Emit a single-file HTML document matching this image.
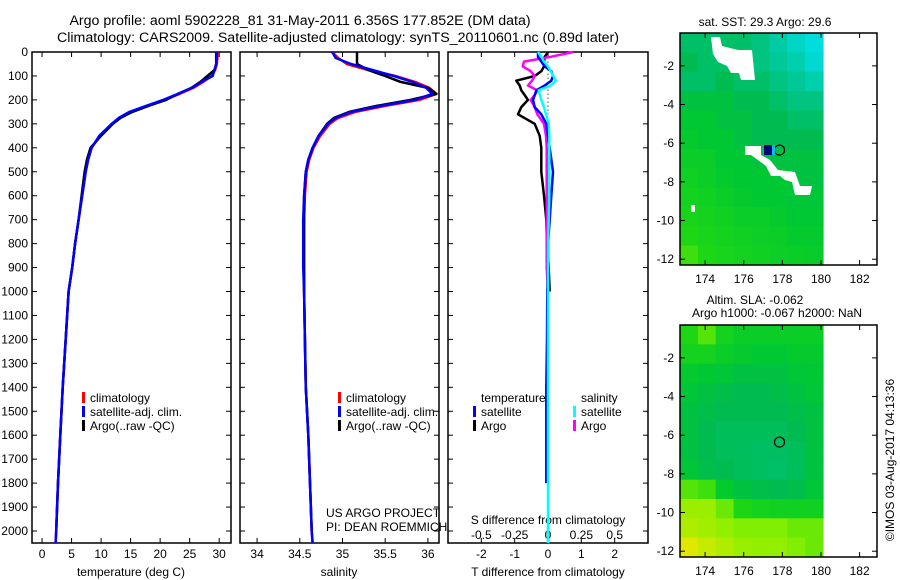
<!DOCTYPE html>
<html><head><meta charset="utf-8"><style>
html,body{margin:0;padding:0;background:#fff;}
svg{display:block;font-family:"Liberation Sans",sans-serif;}
</style></head><body>
<svg id="fig" width="900" height="580" viewBox="0 0 900 580">
<g id="titles" font-size="14.2" text-anchor="middle">
<text x="300" y="25">Argo profile: aoml 5902228_81 31-May-2011 6.356S 177.852E (DM data)</text>
<text x="338" y="42">Climatology: CARS2009. Satellite-adjusted climatology: synTS_20110601.nc (0.89d later)</text>
</g>
<g id="root"></g>
</svg>
<script>
// ---- profile data ----
const depth = [0,25,50,75,100,125,150,175,200,225,250,275,300,350,400,450,500,600,700,800,900,1000,1200,1400,1600,1800,2000,2050];
const tClim = [29.7,29.7,29.6,29.3,28.7,27.3,25.6,23.3,20.7,17.8,15.0,13.2,11.9,9.8,8.4,7.8,7.4,6.8,6.2,5.6,5.1,4.5,4.0,3.5,3.1,2.7,2.4,2.3];
const tSat  = [29.6,29.6,29.5,29.2,28.9,27.0,25.4,23.0,20.5,17.6,14.8,13.0,11.8,9.7,8.4,7.8,7.4,6.8,6.2,5.6,5.1,4.5,4.0,3.5,3.1,2.7,2.4,2.3];
const tArgo = [29.5,29.5,29.5,29.2,28.0,26.8,25.3,23.0,21.0,18.0,15.3,13.3,12.0,10.0,8.2,7.6,7.2,6.7,6.2,5.6,5.1,4.5,4.0,3.5,3.1,2.7,2.4];
const sClim = [34.88,34.95,35.05,35.3,35.62,35.85,36.02,36.1,35.9,35.5,35.15,34.95,34.85,34.74,34.66,34.61,34.58,34.56,34.55,34.55,34.55,34.55,34.56,34.57,34.6,34.62,34.64,34.65];
const sSat  = [34.88,34.92,35.1,35.35,35.6,35.82,35.98,36.05,35.85,35.45,35.1,34.92,34.83,34.72,34.65,34.6,34.57,34.55,34.54,34.54,34.54,34.55,34.56,34.57,34.6,34.62,34.64,34.65];
const sArgo = [35.17,35.17,35.17,35.3,35.5,35.68,36.0,36.1,35.8,35.4,35.08,34.9,34.82,34.72,34.65,34.6,34.57,34.55,34.55,34.55,34.55,34.55,34.56,34.57,34.6,34.62,34.64];
// ---- difference data ----
const dDepth = [0,20,40,60,80,100,120,140,160,180,200,230,260,300,350,400,500,600,700,800,900,1000,1200,1400,1600,1800,2000,2050];
const tArgoD = [0,-0.1,-0.12,-0.12,-0.2,-0.4,-0.95,-0.85,-0.8,-0.7,-0.6,-0.8,-0.9,-0.4,-0.25,-0.2,-0.2,-0.12,-0.05,-0.03,0.02,0.05];
const tSatD  = [-0.3,-0.3,-0.2,-0.1,0.1,0.15,0.1,-0.1,-0.35,-0.4,-0.45,-0.4,-0.2,-0.05,0,0.05,0.15,0.1,0.05,0,0,-0.02,-0.03,-0.05,-0.05,-0.05];
const sSatD  = [-0.075,-0.05,-0.03,0,0.02,0.04,0.06,0.02,-0.07,-0.06,-0.05,-0.03,-0.015,0.005,0.01,0.01,0.01,0.01,0.005,0,0,0,0,0,0,0,0,0];
const sArgoD = [0.19,0.02,-0.18,-0.19,-0.13,-0.1,-0.12,-0.15,-0.08,-0.1,-0.13,-0.1,-0.08,-0.03,-0.015,-0.01,-0.01,-0.01,-0.01,-0.01,-0.01,0];
const depthTicks = [0,100,200,300,400,500,600,700,800,900,1000,1100,1200,1300,1400,1500,1600,1700,1800,1900,2000];
const tTicks = [0,5,10,15,20,25,30];
const sTicks = ["34","34.5","35","35.5","36"];
const tdTicks = [-2,-1,0,1,2];
const sdTicks = ["-0.5","-0.25","0","0.25","0.5"];
// ---- map data (1-degree rows from -0.3 south, 8 columns 172.7..180.1) ----
const sstGrid = [
[.45,.45,.45,.45,.40,.30,.15,.05],[.50,.45,.45,.45,.40,.35,.25,.10],[.45,.45,.50,.45,.45,.40,.35,.25],
[.55,.55,.55,.50,.50,.45,.40,.40],[.60,.60,.55,.55,.50,.50,.45,.45],[.62,.60,.60,.55,.50,.50,.50,.50],
[.65,.65,.60,.60,.55,.55,.55,.55],[.68,.65,.62,.60,.60,.60,.55,.55],[.70,.68,.65,.62,.60,.60,.58,.58],
[.72,.70,.68,.65,.65,.62,.60,.60],[.75,.72,.70,.68,.66,.65,.62,.62],[.78,.75,.72,.70,.68,.66,.65,.64]];
const slaGrid = [
[.75,.8,.7,.65,.65,.65,.65,.65],[.7,.7,.65,.62,.6,.6,.62,.62],[.62,.6,.58,.55,.55,.55,.58,.6],
[.58,.55,.52,.5,.5,.52,.55,.58],[.55,.52,.5,.5,.5,.5,.52,.55],[.55,.5,.48,.48,.48,.48,.5,.55],
[.55,.5,.48,.47,.46,.46,.48,.55],[.58,.52,.5,.48,.46,.45,.48,.55],[.8,.78,.62,.55,.52,.5,.52,.58],
[.87,.87,.82,.74,.7,.68,.68,.68],[.9,.88,.86,.84,.84,.84,.82,.82],[.97,.93,.9,.87,.86,.86,.84,.82]];
const lonTicks = [174,176,178,180,182];
const latTicks = [-2,-4,-6,-8,-10,-12];

const NS='http://www.w3.org/2000/svg';
const root=document.getElementById('root');
function mk(tag,attrs,parent){const e=document.createElementNS(NS,tag);for(const k in attrs)e.setAttribute(k,attrs[k]);(parent||root).appendChild(e);return e;}
function txt(x,y,s,anchor,size,parent){const t=mk('text',{x:x,y:y,'text-anchor':anchor||'middle','font-size':size||12},parent);t.textContent=s;return t;}

const PT=52, PB=543;
const yD=d=>PT+d*0.2395;
function panel(name,L,R,xmin,xmax){
  const g=mk('g',{});
  
  
  const r=mk('rect',{x:L,y:PT,width:R-L,height:PB-PT,fill:'none',stroke:'#000','stroke-width':1.5},g);
  
  
  depthTicks.forEach(d=>{mk('line',{x1:L,x2:L+5,y1:yD(d),y2:yD(d),stroke:'#000'},g);mk('line',{x1:R-5,x2:R,y1:yD(d),y2:yD(d),stroke:'#000'},g);});
  return {g:g,x:v=>L+(v-xmin)/(xmax-xmin)*(R-L)};
}
function line(p,vals,deps,color,name,w){
  const pts=vals.map((v,i)=>p.x(v).toFixed(1)+','+yD(deps[i]).toFixed(1)).join(' ');
  const l=mk('polyline',{points:pts,fill:'none',stroke:color,'stroke-width':w||2.5,'stroke-linejoin':'round'},p.g);
  
  
}
const dl=mk('g',{});


depthTicks.forEach(d=>txt(28,yD(d)+4,String(d),'end',12,dl));

const p1=panel('temperature-panel',32,231,-1.7,32);
tTicks.forEach(t=>{mk('line',{x1:p1.x(t),x2:p1.x(t),y1:PB,y2:PB-5,stroke:'#000'},p1.g);mk('line',{x1:p1.x(t),x2:p1.x(t),y1:PT,y2:PT+5,stroke:'#000'},p1.g);txt(p1.x(t),558,String(t),'middle',12,p1.g);});
txt(131,576,'temperature (deg C)','middle',12,p1.g);
line(p1,tClim,depth,'#f00','temp-climatology-line');
line(p1,tArgo,depth,'#000','temp-argo-line');
line(p1,tSat,depth,'#00f','temp-satellite-line');

const p2=panel('salinity-panel',240,439,33.8,36.13);
sTicks.forEach(t=>{const v=parseFloat(t);mk('line',{x1:p2.x(v),x2:p2.x(v),y1:PB,y2:PB-5,stroke:'#000'},p2.g);mk('line',{x1:p2.x(v),x2:p2.x(v),y1:PT,y2:PT+5,stroke:'#000'},p2.g);txt(p2.x(v),558,t,'middle',12,p2.g);});
txt(339,576,'salinity','middle',12,p2.g);
line(p2,sClim,depth,'#f00','sal-climatology-line');
line(p2,sArgo,depth,'#000','sal-argo-line');
line(p2,sSat,depth,'#00f','sal-satellite-line');
txt(326,517,'US ARGO PROJECT','start',12,p2.g);
txt(326,531,'PI: DEAN ROEMMICH','start',12,p2.g);

[[80,'temp-legend'],[336,'sal-legend']].forEach(([lx,nm])=>{
  const g=mk('g',{});
  
  
  [['#f00','climatology'],['#00f','satellite-adj. clim.'],['#000','Argo(..raw -QC)']].forEach((e,i)=>{
    const y=402+i*14;
    mk('rect',{x:lx+2,y:y-10,width:3,height:11,fill:e[0]},g);
    txt(lx+10,y,e[1],'start',12,g);
  });
});

const p3=panel('difference-panel',448,648,-3,3);
const xs=v=>p3.x(v*4);
tdTicks.forEach(t=>{mk('line',{x1:p3.x(t),x2:p3.x(t),y1:PB,y2:PB-5,stroke:'#000'},p3.g);mk('line',{x1:p3.x(t),x2:p3.x(t),y1:PT,y2:PT+5,stroke:'#000'},p3.g);txt(p3.x(t),558,String(t),'middle',12,p3.g);});
sdTicks.forEach(t=>txt(xs(parseFloat(t)),539,t,'middle',12,p3.g));
txt(548,524,'S difference from climatology','middle',12,p3.g);
txt(548,576,'T difference from climatology','middle',12,p3.g);
mk('line',{x1:p3.x(0),x2:p3.x(0),y1:yD(40),y2:yD(260),stroke:'#000','stroke-dasharray':'1,3'},p3.g);
line(p3,tArgoD,dDepth,'#000','t-diff-argo-line',2.5);
line(p3,sArgoD.map(v=>v*4),dDepth,'#f0f','s-diff-argo-line',2.5);
line(p3,tSatD,dDepth,'#00f','t-diff-satellite-line',2.5);
line(p3,sSatD.map(v=>v*4),dDepth,'#0ff','s-diff-satellite-line',2.5);
const lg3=mk('g',{});


txt(481,402,'temperature','start',12,lg3);txt(581,402,'salinity','start',12,lg3);
[[473,'#00f','satellite',416],[473,'#000','Argo',430],[573,'#0ff','satellite',416],[573,'#f0f','Argo',430]].forEach(e=>{
  mk('rect',{x:e[0],y:e[3]-10,width:3,height:11,fill:e[1]},lg3);txt(e[0]+8,e[3],e[2],'start',12,lg3);});

// ---- maps ----
const stops=[[0,[0,224,232]],[0.35,[0,200,150]],[0.5,[0,188,80]],[0.6,[0,200,50]],[0.75,[30,215,20]],[0.85,[140,240,0]],[1,[245,230,0]]];
function cmap(v){for(let i=1;i<stops.length;i++){if(v<=stops[i][0]){const a=stops[i-1],b=stops[i],f=(v-a[0])/(b[0]-a[0]);return 'rgb('+a[1].map((c,k)=>Math.round(c+(b[1][k]-c)*f)).join(',')+')';}}return 'rgb(245,230,0)';}
function map(name,T,grid){
  const L=680,R=877,B=T+232;
  const lx=lon=>L+(lon-172.7)/(182.9-172.7)*(R-L);
  const ly=lat=>T+(-0.3-lat)/12*(B-T);
  const g=mk('g',{});
  
  
  const cw=(180.1-172.7)/8;
  grid.forEach((row,r)=>row.forEach((v,c)=>{
    const x0=lx(172.7+c*cw),x1=lx(172.7+(c+1)*cw),y0=ly(-0.3-r),y1=ly(-1.3-r);
    const cell=mk('rect',{x:x0.toFixed(1),y:y0.toFixed(1),width:(x1-x0+0.6).toFixed(1),height:(y1-y0+0.6).toFixed(1),fill:cmap(v)},g);
    
    
  }));
  mk('rect',{x:L,y:T,width:R-L,height:B-T,fill:'none',stroke:'#000','stroke-width':1.5},g);
  lonTicks.forEach(l=>{mk('line',{x1:lx(l),x2:lx(l),y1:B,y2:B-5,stroke:'#000'},g);mk('line',{x1:lx(l),x2:lx(l),y1:T,y2:T+5,stroke:'#000'},g);txt(lx(l),B+18,String(l),'middle',12,g);});
  latTicks.forEach(l=>{mk('line',{x1:L,x2:L+5,y1:ly(l),y2:ly(l),stroke:'#000'},g);mk('line',{x1:R-5,x2:R,y1:ly(l),y2:ly(l),stroke:'#000'},g);txt(L-6,ly(l)+4,String(l),'end',12,g);});
  const c=mk('circle',{cx:lx(177.852),cy:ly(-6.356),r:5,fill:'none',stroke:'#000','stroke-width':1.2},g);
  
  
  return {g:g,T:T};
}
const m1=map('sst-map',33,sstGrid);
[['711,37 720,37 722,46 738,50 752,50 755,80 741,80 739,73 731,73 727,66 718,62 713,54'],
 ['745,146 761,146 761,155 770,160 778,170 795,172 800,186 812,186 810,195 795,195 792,182 785,180 780,176 771,176 766,166 751,155 745,155'],
 ['691,205 695,205 695,212 691,212']].forEach(p=>{const q=mk('polygon',{points:p[0],fill:'#fff'},m1.g);});
mk('rect',{x:764,y:145,width:8,height:10,fill:'#00007a'},m1.g);
mk('rect',{x:772,y:145,width:3,height:10,fill:'#00c0e0'},m1.g);
const m2=map('sla-map',325,slaGrid);
txt(765,26,'sat. SST: 29.3 Argo: 29.6','middle',12);
txt(755,304,'Altim. SLA: -0.062','middle',12);
txt(777,317,'Argo h1000: -0.067 h2000: NaN','middle',12);
const cr=txt(0,0,'©IMOS 03-Aug-2017 04:13:36','middle',12);
cr.setAttribute('transform','translate(894,460) rotate(-90)');

</script>
</body></html>
